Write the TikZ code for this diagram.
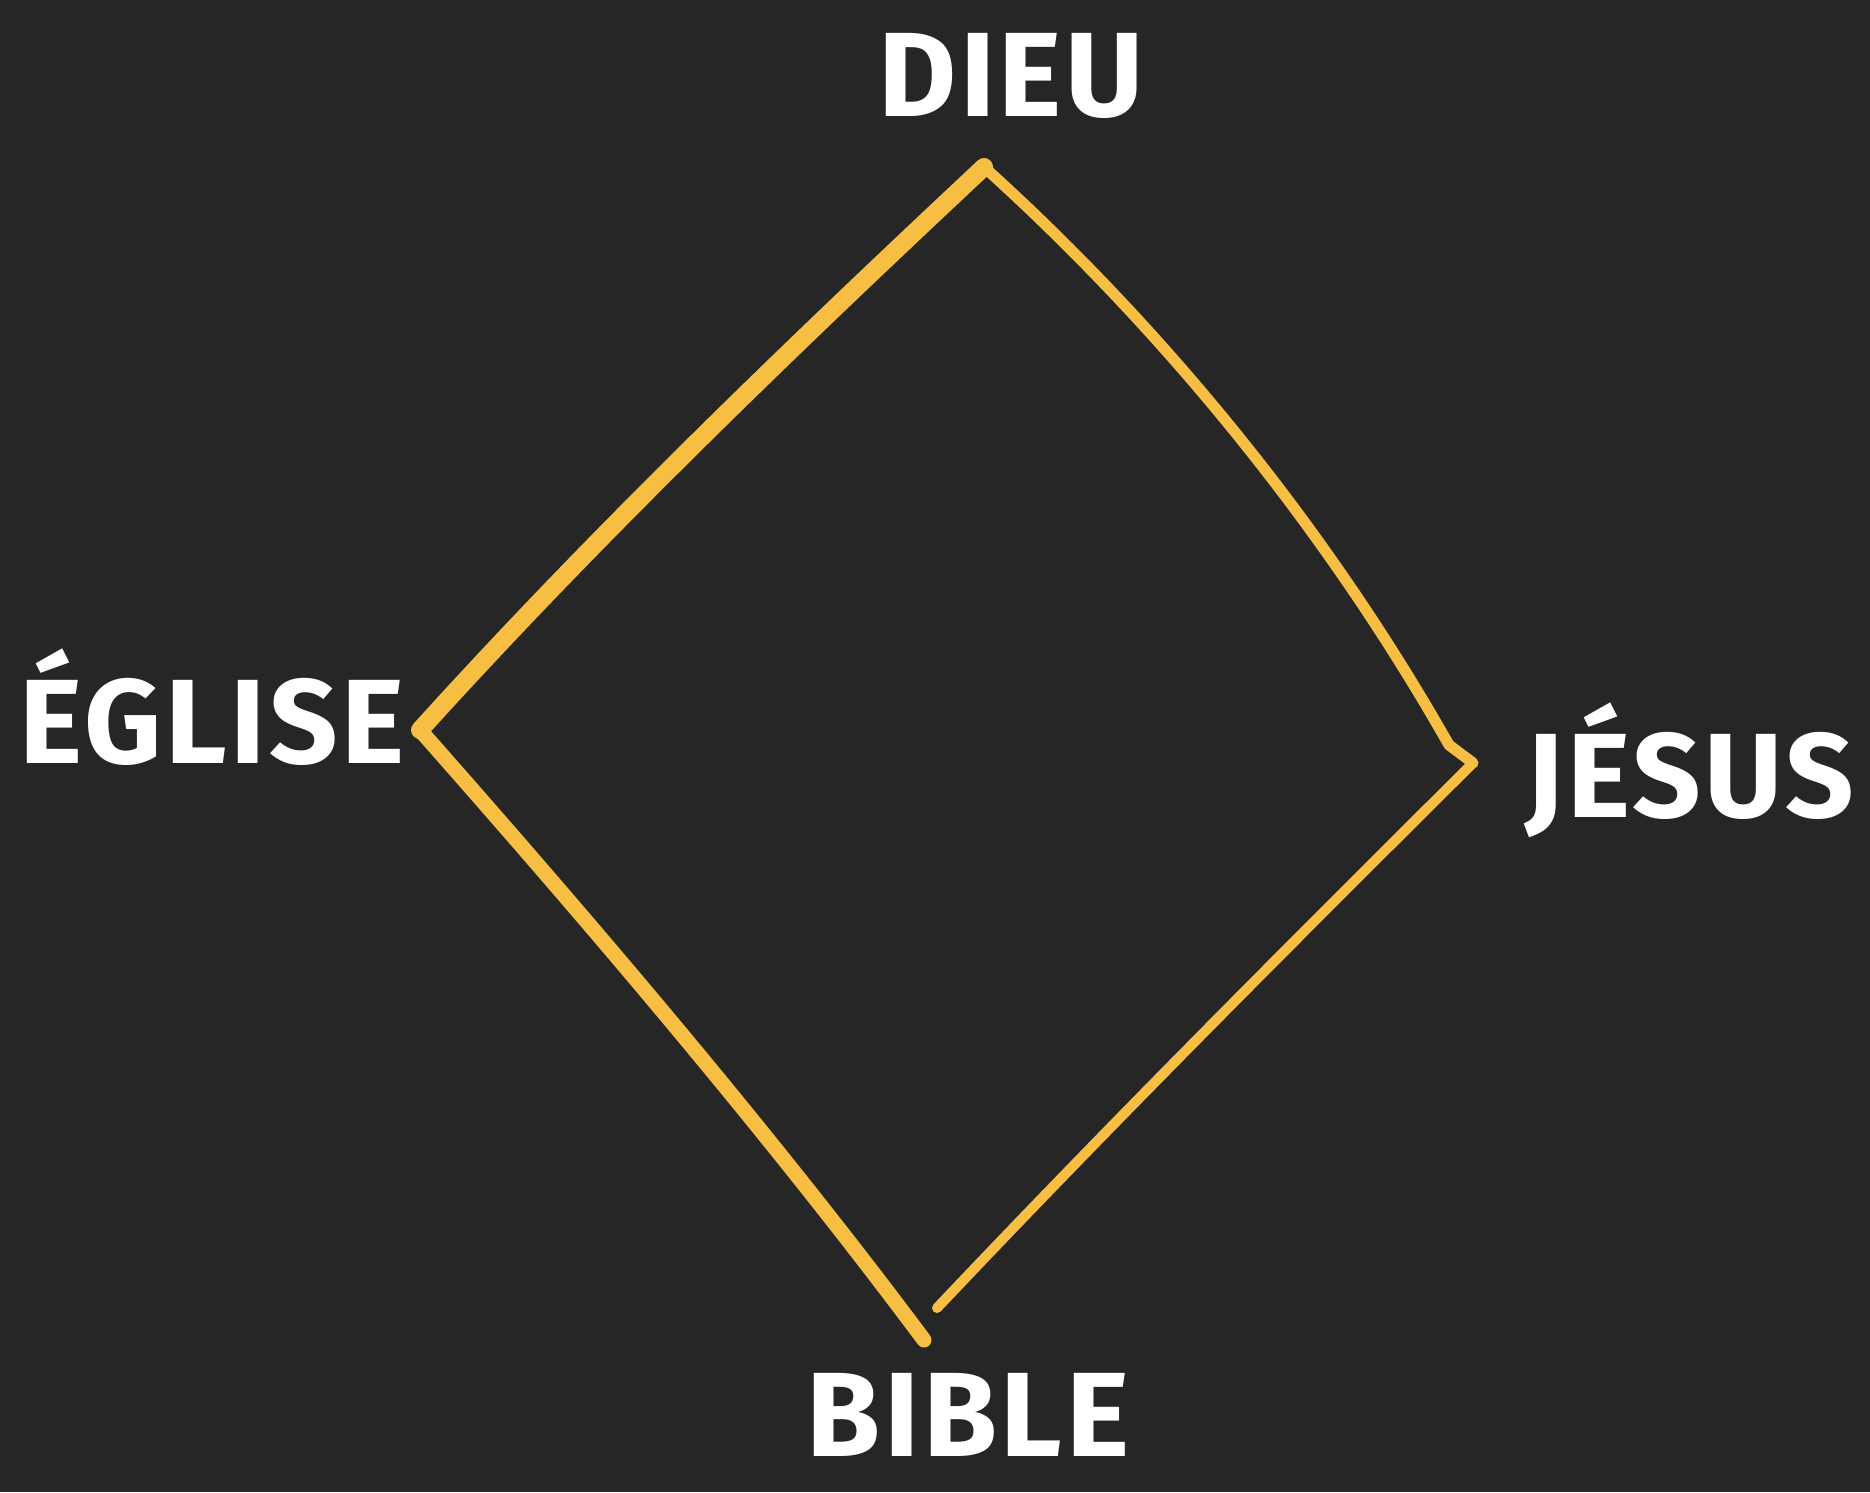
\documentclass[tikz,border=0pt]{standalone}
\usepackage{fontspec}
\setmainfont{Fira Sans}[LetterSpace=3]
\definecolor{bg}{HTML}{262626}
\definecolor{gold}{HTML}{F6BE42}
\begin{document}
\begin{tikzpicture}[x=1pt,y=-1pt,
  lbl/.style={text=white,font=\fontsize{120}{120}\selectfont\bfseries,inner sep=0pt,anchor=base},
  edge/.style={draw=gold,line cap=round,line join=round}]
\fill[bg] (0,0) rectangle (1870,1492);
\useasboundingbox (0,0) rectangle (1870,1492);
\coordinate (T) at (984,167);
\coordinate (L) at (420,730);
\coordinate (Rh) at (1449,745);
\coordinate (R) at (1473,763);
\coordinate (B) at (924,1340);
\coordinate (Be) at (937,1308);
\node[lbl] (dieu) at (1011,116) {DIEU};
\node[lbl] (eglise) at (212,763) {ÉGLISE};
\node[lbl] (jesus) at (1690,817) {JÉSUS};
\node[lbl] (bible) at (968,1456) {BIBLE};
\draw[edge,line width=18pt] (T) .. controls (780,358) and (592,540) .. (L);
\draw[edge,line width=11pt] (T) .. controls (1170,335) and (1330,535) .. (Rh) -- (R);
\draw[edge,line width=10pt] (R) .. controls (1290,945) and (1110,1125) .. (Be);
\draw[edge,line width=15pt] (L) .. controls (570,900) and (760,1120) .. (B);
\end{tikzpicture}
\end{document}
